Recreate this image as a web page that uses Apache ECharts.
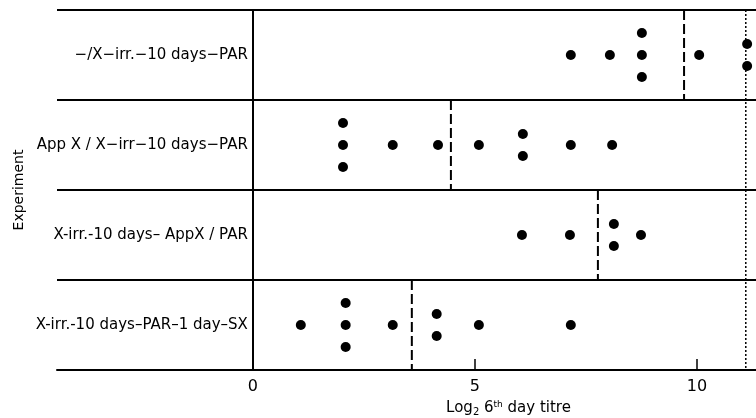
<!DOCTYPE html>
<html>
<head>
<meta charset="utf-8">
<script src="https://cdn.jsdelivr.net/npm/echarts@6/dist/echarts.min.js"></script>
<style>html,body{margin:0;padding:0;background:#fff;}#c{width:756px;height:418px;}</style>
</head>
<body>
<div id="c"></div>
<script>
// ---- data ----
const rowLabels = [
  "\u2212/X\u2212irr.\u221210 days\u2212PAR",
  "App X / X\u2212irr\u221210 days\u2212PAR",
  "X-irr.-10 days\u2013 AppX / PAR",
  "X-irr.-10 days\u2013PAR\u20131 day\u2013SX"
];
const row1 = [7.16, 8.04, 8.76, 8.76, 8.76, 10.05, 11.13, 11.13];
const row2 = [2.03, 2.03, 2.03, 3.15, 4.17, 5.09, 6.08, 6.08, 7.16, 8.09];
const row3 = [6.06, 7.14, 8.13, 8.13, 8.74];
const row4 = [1.08, 2.09, 2.09, 2.09, 3.15, 4.14, 4.14, 5.09, 7.16];
const rowMeans = [9.71, 4.46, 7.77, 3.58];
const refLine = 11.1;
const xTickLabels = [0, 5, 10];
const xTicks = [5, 10];

// ---- build ----
const rows = [row1, row2, row3, row4];
const stackStep = 0.245;
const points = [];
rows.forEach((vals, r) => {
  const groups = {};
  vals.forEach(v => { (groups[v] = groups[v] || []).push(v); });
  Object.keys(groups).forEach(k => {
    const n = groups[k].length;
    groups[k].forEach((v, i) => {
      points.push([v, r + 0.5 + (i - (n - 1) / 2) * stackStep]);
    });
  });
});

const FONT = "DejaVu Sans";
const X_MIN = -4.41, X_MAX = 11.33;
const GRID_LEFT = 57, GRID_RIGHT = 0, WIDTH = 756;
// pixel distance from grid left edge to x = 0, so row labels sit just left of the x = 0 line
const zeroOffset = (0 - X_MIN) / (X_MAX - X_MIN) * (WIDTH - GRID_LEFT - GRID_RIGHT);

const series = [{
  type: 'scatter', data: points, symbolSize: 10,
  itemStyle: { color: '#000', opacity: 1 }, silent: true, z: 5
}];
rowMeans.forEach((m, r) => {
  series.push({
    type: 'line', data: [[m, r], [m, r + 1]], symbol: 'none', silent: true,
    lineStyle: { color: '#000', width: 2, type: [10, 4] }
  });
});
series.push({
  type: 'line', data: [[refLine, 0], [refLine, 4]], symbol: 'none', silent: true,
  lineStyle: { color: '#000', width: 1.5, type: [2, 2] }
});

const chart = echarts.init(document.getElementById('c'), null, { renderer: 'canvas' });
chart.setOption({
  animation: false,
  backgroundColor: '#fff',
  grid: { left: GRID_LEFT, right: GRID_RIGHT, top: 10, bottom: 48, containLabel: false, outerBoundsMode: 'none' },
  xAxis: {
    type: 'value', min: X_MIN, max: X_MAX,
    axisLine: { onZero: false, lineStyle: { color: '#000', width: 2 } },
    axisTick: { show: true, inside: true, length: 11, customValues: xTicks, lineStyle: { color: '#000', width: 1.5 } },
    axisLabel: { customValues: xTickLabels, color: '#000', fontSize: 16, fontFamily: FONT, margin: 9 },
    splitLine: { show: false },
    name: 'Log{sub|2} 6{sup|th} day titre',
    nameLocation: 'middle', nameGap: 25,
    nameTextStyle: {
      color: '#000', fontSize: 15, fontFamily: FONT, padding: [0, 0, 0, 204],
      rich: {
        sub: { fontSize: 10, fontFamily: FONT, color: '#000', padding: [8, 0, 0, 0] },
        sup: { fontSize: 9, fontFamily: FONT, color: '#000', padding: [0, 0, 8, 0] }
      }
    }
  },
  yAxis: [{
    type: 'value', min: 0, max: 4, interval: 1, inverse: true,
    axisLine: { show: true, onZero: true, lineStyle: { color: '#000', width: 2 } },
    axisTick: { show: false },
    axisLabel: {
      customValues: [0.5, 1.5, 2.5, 3.5], color: '#000', fontSize: 15, fontFamily: FONT,
      margin: -(zeroOffset - 5),
      formatter: v => rowLabels[Math.floor(v)]
    },
    splitLine: { show: true, lineStyle: { color: '#000', width: 2 } }
  }, {
    type: 'value', min: 0, max: 4, position: 'left',
    axisLine: { show: false, onZero: false }, axisTick: { show: false },
    axisLabel: { show: false }, splitLine: { show: false },
    name: 'Experiment', nameLocation: 'middle', nameGap: 31, nameRotate: 90,
    nameTextStyle: { color: '#000', fontSize: 14, fontFamily: FONT }
  }],
  series: series
});
</script>
</body>
</html>
